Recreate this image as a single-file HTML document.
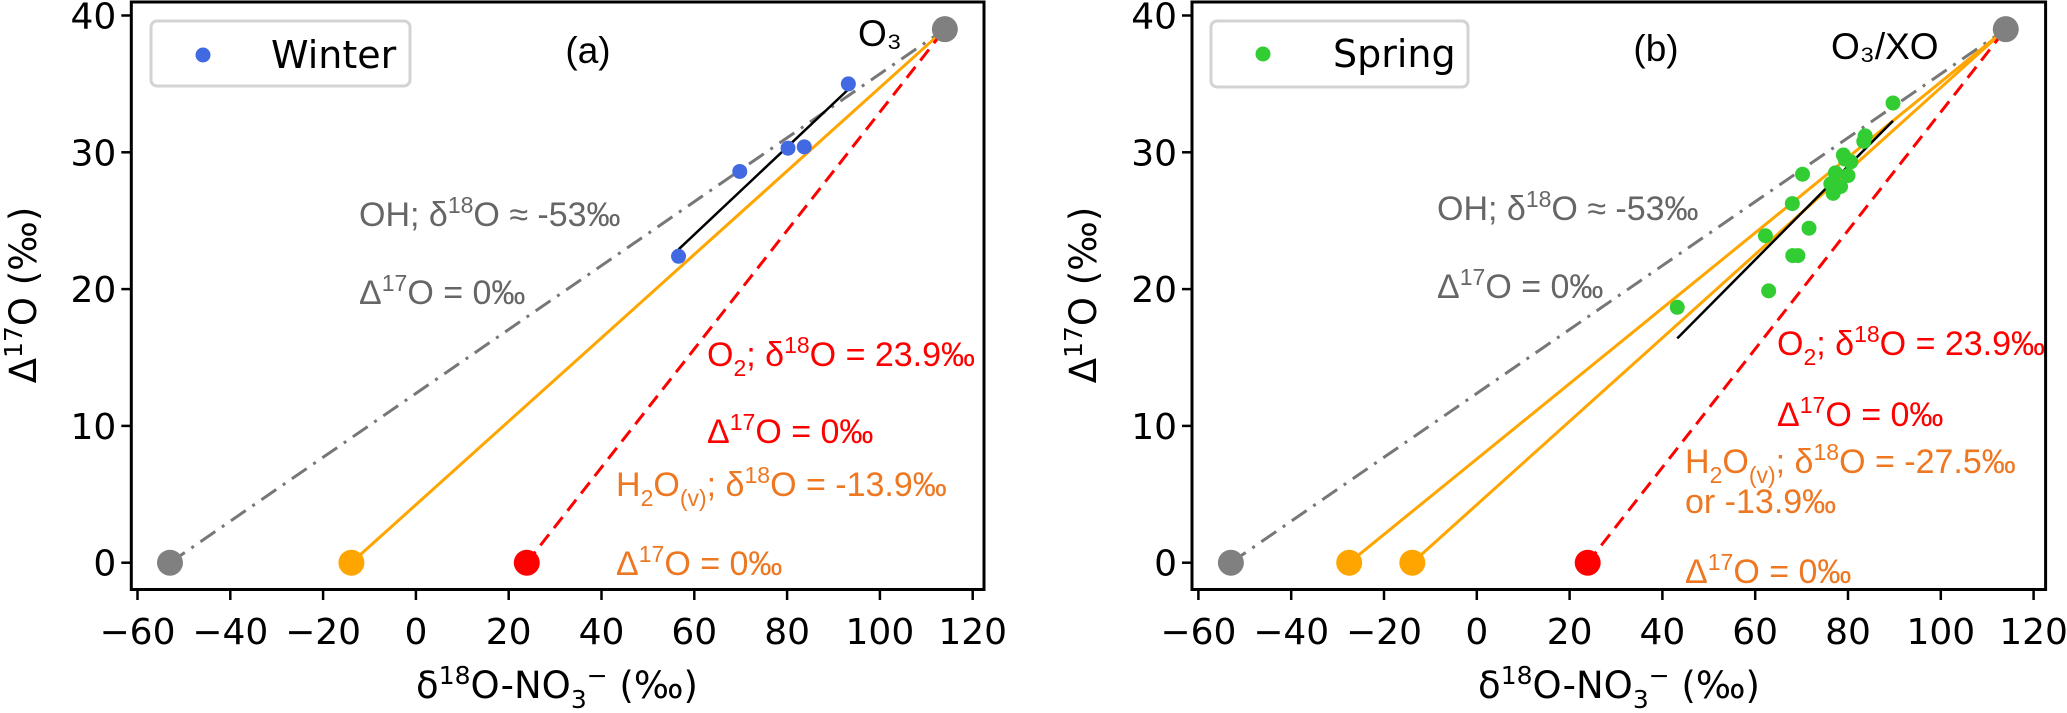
<!DOCTYPE html>
<html><head><meta charset="utf-8"><style>
html,body{margin:0;padding:0;background:#fff;width:2067px;height:713px;overflow:hidden}
svg{display:block}
.tick{font-family:"DejaVu Sans","Liberation Sans",sans-serif;font-size:36px;fill:#000}
.ann{font-family:"Liberation Sans","DejaVu Sans",sans-serif;font-size:34px}
.lab{font-family:"DejaVu Sans","Liberation Sans",sans-serif;font-size:37px;fill:#000}
</style></head><body>
<svg id="chart" width="2067" height="713" viewBox="0 0 2067 713" xmlns="http://www.w3.org/2000/svg"></svg>
<script>
const xTicks = [-60,-40,-20,0,20,40,60,80,100,120];
const yTicks = [0,10,20,30,40];
const endOH = [-53,0];
const endH2Oa = [-13.9,0];
const endH2Ob = [-27.5,0];
const endO2 = [23.9,0];
const endO3 = [114,39];
const winterX = [56.6,69.8,80.2,83.7,93.2];
const winterY = [22.4,28.6,30.3,30.4,35.0];
const winterFitX = [56.6,93.2];
const winterFitY = [22.9,34.6];
const springX = [89.7,83.7,83.4,79.0,79.4,70.2,80.6,80.0,77.3,76.3,78.4,76.8,68.0,71.6,62.2,68.1,69.2,62.9,43.2];
const springY = [33.6,31.2,30.8,29.8,29.5,28.4,29.3,28.3,28.5,27.7,27.5,27.0,26.25,24.45,23.9,22.45,22.45,19.87,18.67];
const springFitX = [43.2,89.7];
const springFitY = [16.4,32.3];

const NS="http://www.w3.org/2000/svg";
const svg=document.getElementById('chart');
function mk(tag,attrs,parent){const e=document.createElementNS(NS,tag);for(const k in attrs)e.setAttribute(k,attrs[k]);(parent||svg).appendChild(e);return e;}
const Y0=562.7, YS=13.68;
function yS(v){return Y0-v*YS;}
function panel(p){
  const xS=v=>p.x0+v*4.64;
  const g=mk('g',{});
  
  
  xTicks.forEach(t=>{
    const l=mk('line',{x1:xS(t),x2:xS(t),y1:589.5,y2:600,stroke:'#000','stroke-width':2.5},g);
    
    
    const tx=mk('text',{x:xS(t),y:644,'text-anchor':'middle',class:'tick'},g);
    tx.textContent=(t<0?'\u2212'+(-t):t);
    
    
  });
  yTicks.forEach(t=>{
    const l=mk('line',{x1:p.left-10,x2:p.left,y1:yS(t),y2:yS(t),stroke:'#000','stroke-width':2.5},g);
    
    
    const tx=mk('text',{x:p.left-15,y:yS(t)+13,'text-anchor':'end',class:'tick'},g);
    tx.textContent=t;
    
    
  });
  function ln(a,b,col,dash,name,w){
    const l=mk('line',{x1:xS(a[0]),y1:yS(a[1]),x2:xS(b[0]),y2:yS(b[1]),stroke:col,'stroke-width':w||3,'stroke-dasharray':dash||'none'},g);
    
    
  }
  ln(endOH,endO3,'#777','18,8,3,8','oh-mixing-line');
  p.h2o.forEach(h=>ln(h,endO3,'#FFA500',null,'h2o-mixing-line'));
  ln(endO2,endO3,'#FF0000','14,8','o2-mixing-line');
  ln([p.fitX[0],p.fitY[0]],[p.fitX[1],p.fitY[1]],'#000',null,'regression-line',2.5);
  p.px.forEach((v,i)=>{
    const c=mk('circle',{cx:xS(v),cy:yS(p.py[i]),r:7.5,fill:p.col},g);
    
    
  });
  function ep(pt,col,name){
    const c=mk('circle',{cx:xS(pt[0]),cy:yS(pt[1]),r:13,fill:col},g);
    
    
  }
  ep(endOH,'#808080','oh-endmember');
  p.h2o.forEach(h=>ep(h,'#FFA500','h2o-endmember'));
  ep(endO2,'#FF0000','o2-endmember');
  ep(endO3,'#808080','o3-endmember');
  const fr=mk('rect',{x:p.left,y:2,width:p.right-p.left,height:587.5,fill:'none',stroke:'#000','stroke-width':3},g);
  
  
}
panel({name:'panel-a',x0:415.9,left:131.3,right:984,h2o:[endH2Oa],px:winterX,py:winterY,fitX:winterFitX,fitY:winterFitY,col:'#4169E1'});
panel({name:'panel-b',x0:1476.8,left:1192,right:2045.6,h2o:[endH2Ob,endH2Oa],px:springX,py:springY,fitX:springFitX,fitY:springFitY,col:'#32CD32'});
</script>
<svg width="2067" height="713" style="position:absolute;left:0;top:0" xmlns="http://www.w3.org/2000/svg">
<g>
<rect x="151" y="21" width="259" height="65" rx="6" fill="#fff" stroke="#d3d3d3" stroke-width="3"/>
<circle cx="203" cy="55" r="7.5" fill="#4169E1"/>
<text x="271" y="68" class="lab" style="font-size:38px">Winter</text>
</g>
<g>
<rect x="1211" y="21" width="257" height="66" rx="6" fill="#fff" stroke="#d3d3d3" stroke-width="3"/>
<circle cx="1263" cy="54" r="7.5" fill="#32CD32"/>
<text x="1333" y="67" class="lab" style="font-size:38px">Spring</text>
</g>
<text x="588" y="63" text-anchor="middle" class="ann" style="font-size:37px" fill="#000">(a)</text>
<text x="1656" y="61" text-anchor="middle" class="ann" style="font-size:37px" fill="#000">(b)</text>
<text x="858" y="46" class="ann" style="font-size:37px" fill="#000">O₃</text>
<text x="1831" y="59" class="ann" style="font-size:37px" fill="#000">O₃/XO</text>
<g class="ann" fill="#666">
<text x="359" y="226">OH; δ<tspan dy="-13" font-size="23">18</tspan><tspan dy="13">O ≈ -53‰</tspan></text>
<text x="359" y="304">Δ<tspan dy="-13" font-size="23">17</tspan><tspan dy="13">O = 0‰</tspan></text>
</g>
<g class="ann" fill="#FF0000">
<text x="707" y="366">O<tspan dy="10" font-size="23">2</tspan><tspan dy="-10">; δ</tspan><tspan dy="-13" font-size="23">18</tspan><tspan dy="13">O = 23.9‰</tspan></text>
<text x="707" y="443">Δ<tspan dy="-13" font-size="23">17</tspan><tspan dy="13">O = 0‰</tspan></text>
</g>
<g class="ann" fill="#EE7722">
<text x="616" y="496">H<tspan dy="10" font-size="23">2</tspan><tspan dy="-10">O</tspan><tspan dy="10" font-size="23">(v)</tspan><tspan dy="-10">; δ</tspan><tspan dy="-13" font-size="23">18</tspan><tspan dy="13">O = -13.9‰</tspan></text>
<text x="616" y="575">Δ<tspan dy="-13" font-size="23">17</tspan><tspan dy="13">O = 0‰</tspan></text>
</g>
<g class="ann" fill="#666">
<text x="1437" y="220">OH; δ<tspan dy="-13" font-size="23">18</tspan><tspan dy="13">O ≈ -53‰</tspan></text>
<text x="1437" y="298">Δ<tspan dy="-13" font-size="23">17</tspan><tspan dy="13">O = 0‰</tspan></text>
</g>
<g class="ann" fill="#FF0000">
<text x="1777" y="355">O<tspan dy="10" font-size="23">2</tspan><tspan dy="-10">; δ</tspan><tspan dy="-13" font-size="23">18</tspan><tspan dy="13">O = 23.9‰</tspan></text>
<text x="1777" y="426">Δ<tspan dy="-13" font-size="23">17</tspan><tspan dy="13">O = 0‰</tspan></text>
</g>
<g class="ann" fill="#EE7722">
<text x="1685" y="473">H<tspan dy="10" font-size="23">2</tspan><tspan dy="-10">O</tspan><tspan dy="10" font-size="23">(v)</tspan><tspan dy="-10">; δ</tspan><tspan dy="-13" font-size="23">18</tspan><tspan dy="13">O = -27.5‰</tspan></text>
<text x="1685" y="513">or -13.9‰</text>
<text x="1685" y="583">Δ<tspan dy="-13" font-size="23">17</tspan><tspan dy="13">O = 0‰</tspan></text>
</g>
<text x="557" y="698" text-anchor="middle" class="lab">δ<tspan dy="-14" font-size="25">18</tspan><tspan dy="14">O-NO</tspan><tspan dy="10" font-size="25">3</tspan><tspan dy="-24" font-size="25">−</tspan><tspan dy="14"> (‰)</tspan></text>
<text x="1619" y="698" text-anchor="middle" class="lab">δ<tspan dy="-14" font-size="25">18</tspan><tspan dy="14">O-NO</tspan><tspan dy="10" font-size="25">3</tspan><tspan dy="-24" font-size="25">−</tspan><tspan dy="14"> (‰)</tspan></text>
<text transform="translate(36,295) rotate(-90)" text-anchor="middle" class="lab">Δ<tspan dy="-14" font-size="25">17</tspan><tspan dy="14">O (‰)</tspan></text>
<text transform="translate(1096,295) rotate(-90)" text-anchor="middle" class="lab">Δ<tspan dy="-14" font-size="25">17</tspan><tspan dy="14">O (‰)</tspan></text>
</svg>
</body></html>
